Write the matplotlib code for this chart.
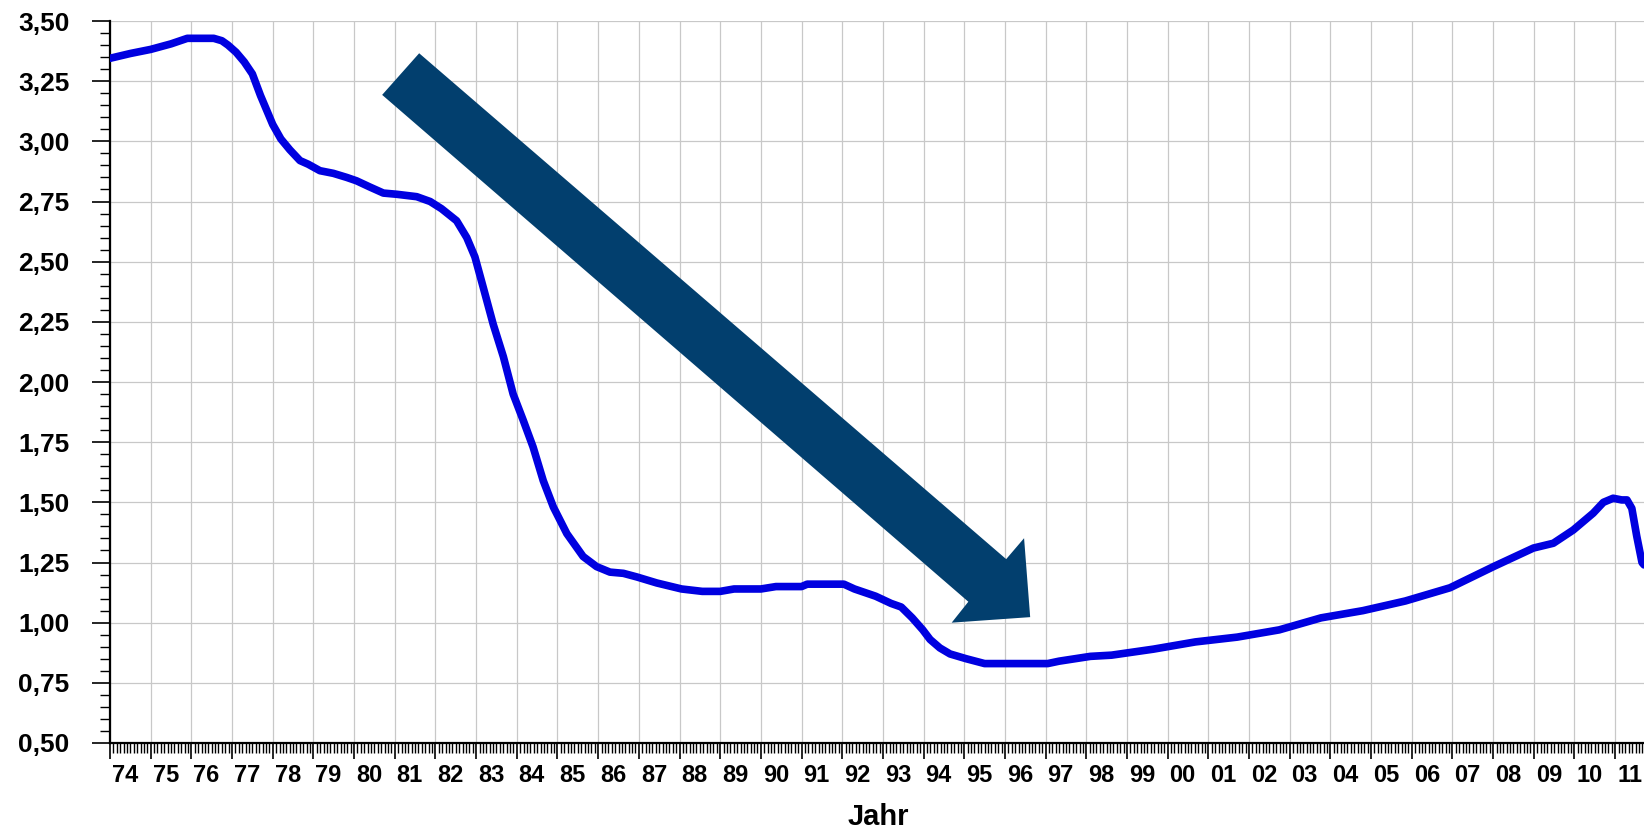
import matplotlib.pyplot as plt
import numpy as np
from matplotlib.patches import Polygon
from matplotlib.ticker import FuncFormatter, MultipleLocator

plt.rcParams['font.family'] = ['Liberation Sans', 'DejaVu Sans']

# Zeitpunkte (Dezimaljahr) und Werte
jahr = [1974.00, 1974.50, 1975.00, 1975.50, 1975.90, 1976.55, 1976.75, 1976.90,
        1977.10, 1977.30, 1977.50, 1977.70, 1977.85, 1978.00, 1978.20, 1978.42,
        1978.67, 1978.87, 1979.16, 1979.49, 1979.82, 1980.06, 1980.39, 1980.72,
        1981.05, 1981.54, 1981.87, 1982.15, 1982.52, 1982.77, 1982.97, 1983.18,
        1983.42, 1983.67, 1983.91, 1984.16, 1984.40, 1984.65, 1984.90, 1985.23,
        1985.63, 1985.96, 1986.29, 1986.62, 1986.95, 1987.44, 1988.05, 1988.56,
        1989.00, 1989.34, 1990.00, 1990.37, 1991.00, 1991.14, 1992.04, 1992.30,
        1992.82, 1993.20, 1993.45, 1993.72, 1993.98, 1994.16, 1994.40, 1994.65,
        1995.05, 1995.50, 1997.05, 1997.33, 1998.10, 1998.62, 1999.65, 2000.68,
        2001.71, 2002.74, 2003.77, 2004.80, 2005.84, 2006.94, 2008.01, 2008.99,
        2009.48, 2009.97, 2010.46, 2010.71, 2010.95, 2011.16, 2011.29, 2011.41,
        2011.53, 2011.66, 2011.71]
wert = [3.345, 3.365, 3.382, 3.405, 3.428, 3.428, 3.418, 3.40,
        3.37, 3.33, 3.28, 3.19, 3.13, 3.07, 3.01, 2.965,
        2.92, 2.905, 2.878, 2.867, 2.85, 2.836, 2.81, 2.785,
        2.78, 2.77, 2.75, 2.72, 2.67, 2.60, 2.52, 2.39,
        2.24, 2.105, 1.95, 1.84, 1.73, 1.59, 1.48, 1.37,
        1.275, 1.233, 1.21, 1.205, 1.19, 1.165, 1.14, 1.13,
        1.13, 1.14, 1.14, 1.15, 1.15, 1.16, 1.16, 1.14,
        1.11, 1.08, 1.065, 1.02, 0.97, 0.93, 0.895, 0.87,
        0.85, 0.83, 0.83, 0.84, 0.86, 0.865, 0.89, 0.92,
        0.94, 0.97, 1.02, 1.05, 1.09, 1.145, 1.233, 1.31,
        1.33, 1.385, 1.455, 1.50, 1.517, 1.51, 1.51, 1.475,
        1.36, 1.25, 1.24]

jahres_labels = ['%02d' % (j % 100) for j in range(1974, 2012)]

# Pfeil (Jahr, Wert)
pfeil = [(1981.60, 3.366), (1980.69, 3.193), (1995.10, 1.087), (1994.69, 1.000),
         (1996.62, 1.023), (1996.47, 1.351), (1996.03, 1.264)]

fig = plt.figure(figsize=(16.44, 8.32), dpi=100)
ax = fig.add_axes([110/1644, 89/832, 1534/1644, 722/832])

ax.plot(jahr, wert, color='#0000e0', lw=5.5, solid_joinstyle='round',
        solid_capstyle='round', zorder=3)
ax.add_patch(Polygon(pfeil, closed=True, facecolor='#023f6e', edgecolor='none', zorder=4))

ax.set_xlim(1974, 1974 + 1534/40.68)
ax.set_ylim(0.5, 3.5)

ax.xaxis.set_major_locator(MultipleLocator(1))
ax.xaxis.set_minor_locator(MultipleLocator(1/12))
ax.yaxis.set_major_locator(MultipleLocator(0.25))
ax.yaxis.set_minor_locator(MultipleLocator(0.05))
ax.yaxis.set_major_formatter(FuncFormatter(lambda v, p: ('%.2f' % v).replace('.', ',')))

ax.grid(True, which='major', color='#c8c8c8', lw=0.9)
ax.set_axisbelow(True)

ax.tick_params(axis='x', which='major', length=11.5, width=1.2, direction='out', labelbottom=False)
ax.tick_params(axis='x', which='minor', length=7.5, width=1.0, direction='out')
ax.tick_params(axis='y', which='major', length=13, width=1.2, direction='out', pad=16,
               labelsize=19)
ax.tick_params(axis='y', which='minor', length=7, width=1.0, direction='out')
for lab in ax.get_yticklabels():
    lab.set_fontweight('bold')

for s in ['top', 'right']:
    ax.spines[s].set_visible(False)
for s in ['left', 'bottom']:
    ax.spines[s].set_linewidth(1.6)
    ax.spines[s].set_color('black')

for i, lab in enumerate(jahres_labels):
    ax.text(1974 + i + 0.37, -0.0457, lab, transform=ax.get_xaxis_transform(),
            ha='center', va='center', fontsize=17, fontweight='bold')

fig.text(878/1644, 1 - 817/832, 'Jahr', ha='center', va='center', fontsize=21, fontweight='bold')

fig.savefig('out.png', dpi=100)
